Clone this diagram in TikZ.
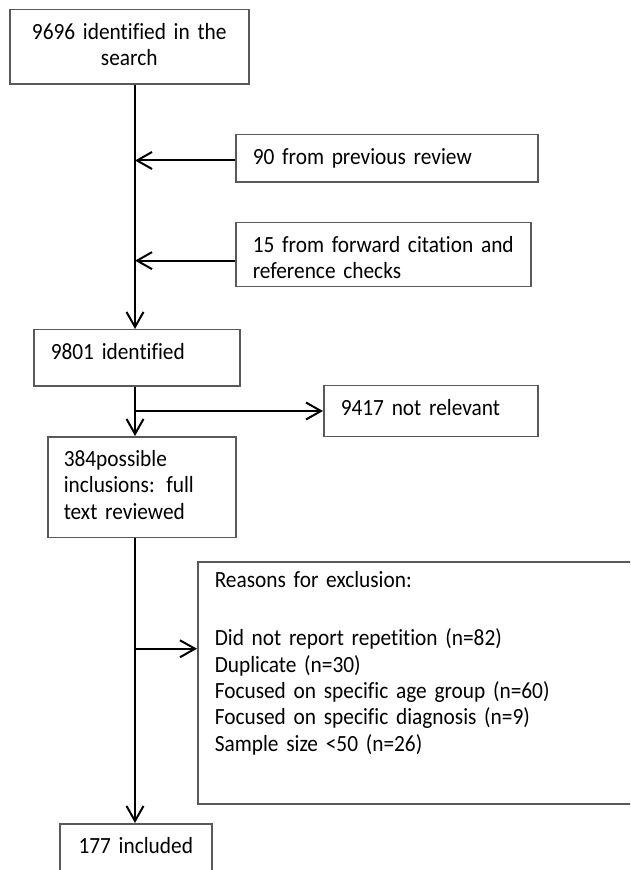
\documentclass[tikz,border=0pt]{standalone}
\usepackage{fontspec}
\setmainfont{Carlito}[Ligatures=NoCommon, FakeStretch=0.92, WordSpace=0.75]
\usetikzlibrary{arrows.meta}
\definecolor{boxline}{HTML}{595959}

\begin{document}
\begin{tikzpicture} [
        x=0.5pt, y=-0.5pt,
        font=\fontsize{11.6pt}{13.2pt}\selectfont,
        box/.style={draw=boxline, line width=0.75pt, rectangle, anchor=north west,
                    inner xsep=8.5pt, inner ysep=0pt, text height=14.75pt, align=left},
        flow/.style={->, line width=1pt, black},
        >={Straight Barb[length=7.5pt,width=8.5pt]} ]
    \useasboundingbox (0,0) rectangle (630,870);
    \clip (0,0) rectangle (630,870);
    \coordinate (spine) at (135,0);
    % boxes
    \node[box, align=center, text width=102.5pt, text depth=22.5pt] (search) at (9,9) {9696~identified~in~the\\search};
    \node[box, text width=134pt, text depth=9pt] (prev) at (235,134) {90 from previous review};
    \node[box, text width=130.5pt, text depth=17.15pt] (fwd) at (235,222) {15~from~forward~citation~and\\reference checks};
    \node[box, text width=86pt, text depth=13.5pt] (ident) at (33,329) {9801 identified};
    \node[box, text width=90pt, text depth=10.5pt] (notrel) at (323,385) {9417 not relevant};
    \node[box, inner xsep=8pt, text width=78pt, text depth=35.5pt] (fulltext) at (47,436) {384possible\\inclusions: full\\text reviewed};
    \node[box, text height=13pt, text width=204.5pt, text depth=108pt] (reasons) at (197,561)
        {Reasons for exclusion:\\[15.8pt]Did not report repetition (n=82)\\Duplicate (n=30)\\Focused on specific age group (n=60)\\Focused on specific diagnosis (n=9)\\Sample size <50 (n=26)};
    \node[box, align=center, text width=59pt, text depth=13.5pt] (incl) at (59,823) {177 included};
    % connectors
    \coordinate (previn) at ([yshift=-1pt]prev.west);
    \coordinate (fwdin) at ([yshift=-3pt]fwd.west);
    \coordinate (exclin) at ([yshift=17pt]reasons.west);
    \draw[flow] (search.south -| spine) -- (ident.north -| spine);
    \draw[flow] (previn) -- (previn -| spine);
    \draw[flow] (fwdin) -- (fwdin -| spine);
    \draw[flow] (ident.south -| spine) -- (fulltext.north -| spine);
    \draw[flow] (notrel.west -| spine) -- (notrel.west);
    \draw[flow] (fulltext.south -| spine) -- (incl.north -| spine);
    \draw[flow] (exclin -| spine) -- (exclin);
\end{tikzpicture}
\end{document}
